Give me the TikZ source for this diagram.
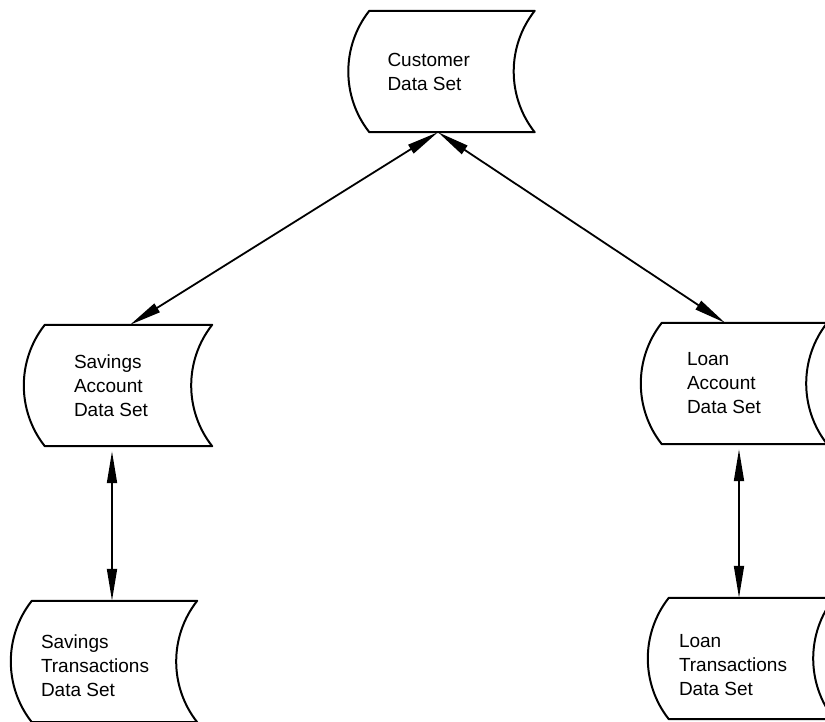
\documentclass[tikz,border=0pt]{standalone}
\usepackage{fontspec}
\setmainfont{Liberation Sans}
\usetikzlibrary{arrows.meta}
\begin{document}
\begin{tikzpicture}[x=1pt,y=-1pt,
  databox/.style={minimum width=165pt, minimum height=121pt, inner sep=0pt},
  lbl/.style={anchor=west, align=left, inner sep=0pt,
    font=\fontsize{19}{24}\selectfont},
  shapeline/.style={line width=2pt, line join=round},
  link/.style={line width=1.8pt,
    {Triangle[length=32pt,width=10pt]}-{Triangle[length=32pt,width=10pt]}}
]
\useasboundingbox (0,0) rectangle (825,721);
\clip (0,0) rectangle (825,721);

% data set boxes (empty nodes, outlines drawn below)
\node[databox] (cust)  at (452,71.5)  {};
\node[databox, minimum width=167pt] (sav) at (128.5,385.5) {};
\node[databox] (loan)  at (744.5,383.5) {};
\node[databox] (savt)  at (114.5,661.5) {};
\node[databox] (loant) at (751.5,658.5) {};

% stored-data outline: convex left side, concave right side
\foreach \n in {cust,sav,loan,savt,loant}{
  \draw[shapeline] (\n.north west)
      .. controls +(-28,35.5) and +(-28,-35.5) .. (\n.south west)
      -- (\n.south east)
      .. controls +(-28,-35.5) and +(-28,35.5) .. (\n.north east)
      -- cycle;
}

% labels
\node[lbl] (custtxt)  at ([xshift=18pt]cust.west)  {Customer\\Data Set};
\node[lbl] (savtxt)   at ([xshift=29pt]sav.west)   {Savings\\Account\\Data Set};
\node[lbl] (loantxt)  at ([xshift=25pt]loan.west)  {Loan\\Account\\Data Set};
\node[lbl] (savttxt)  at ([xshift=9pt,yshift=-4pt]savt.west)  {Savings\\Transactions\\Data Set};
\node[lbl] (loanttxt) at ([xshift=10pt,yshift=-7pt]loant.west) {Loan\\Transactions\\Data Set};

% two-way links
\coordinate (hub) at ([xshift=-14pt]cust.south);
\draw[link] (hub) -- ([xshift=1.5pt]sav.north);
\draw[link] (hub) -- ([xshift=-19.5pt]loan.north);
\draw[link, shorten <=5pt] ([xshift=-16.5pt]sav.south) -- ([xshift=-2.5pt]savt.north);
\draw[link, shorten <=5pt] ([xshift=-5.5pt]loan.south) -- ([xshift=-12.5pt]loant.north);
\end{tikzpicture}
\end{document}
